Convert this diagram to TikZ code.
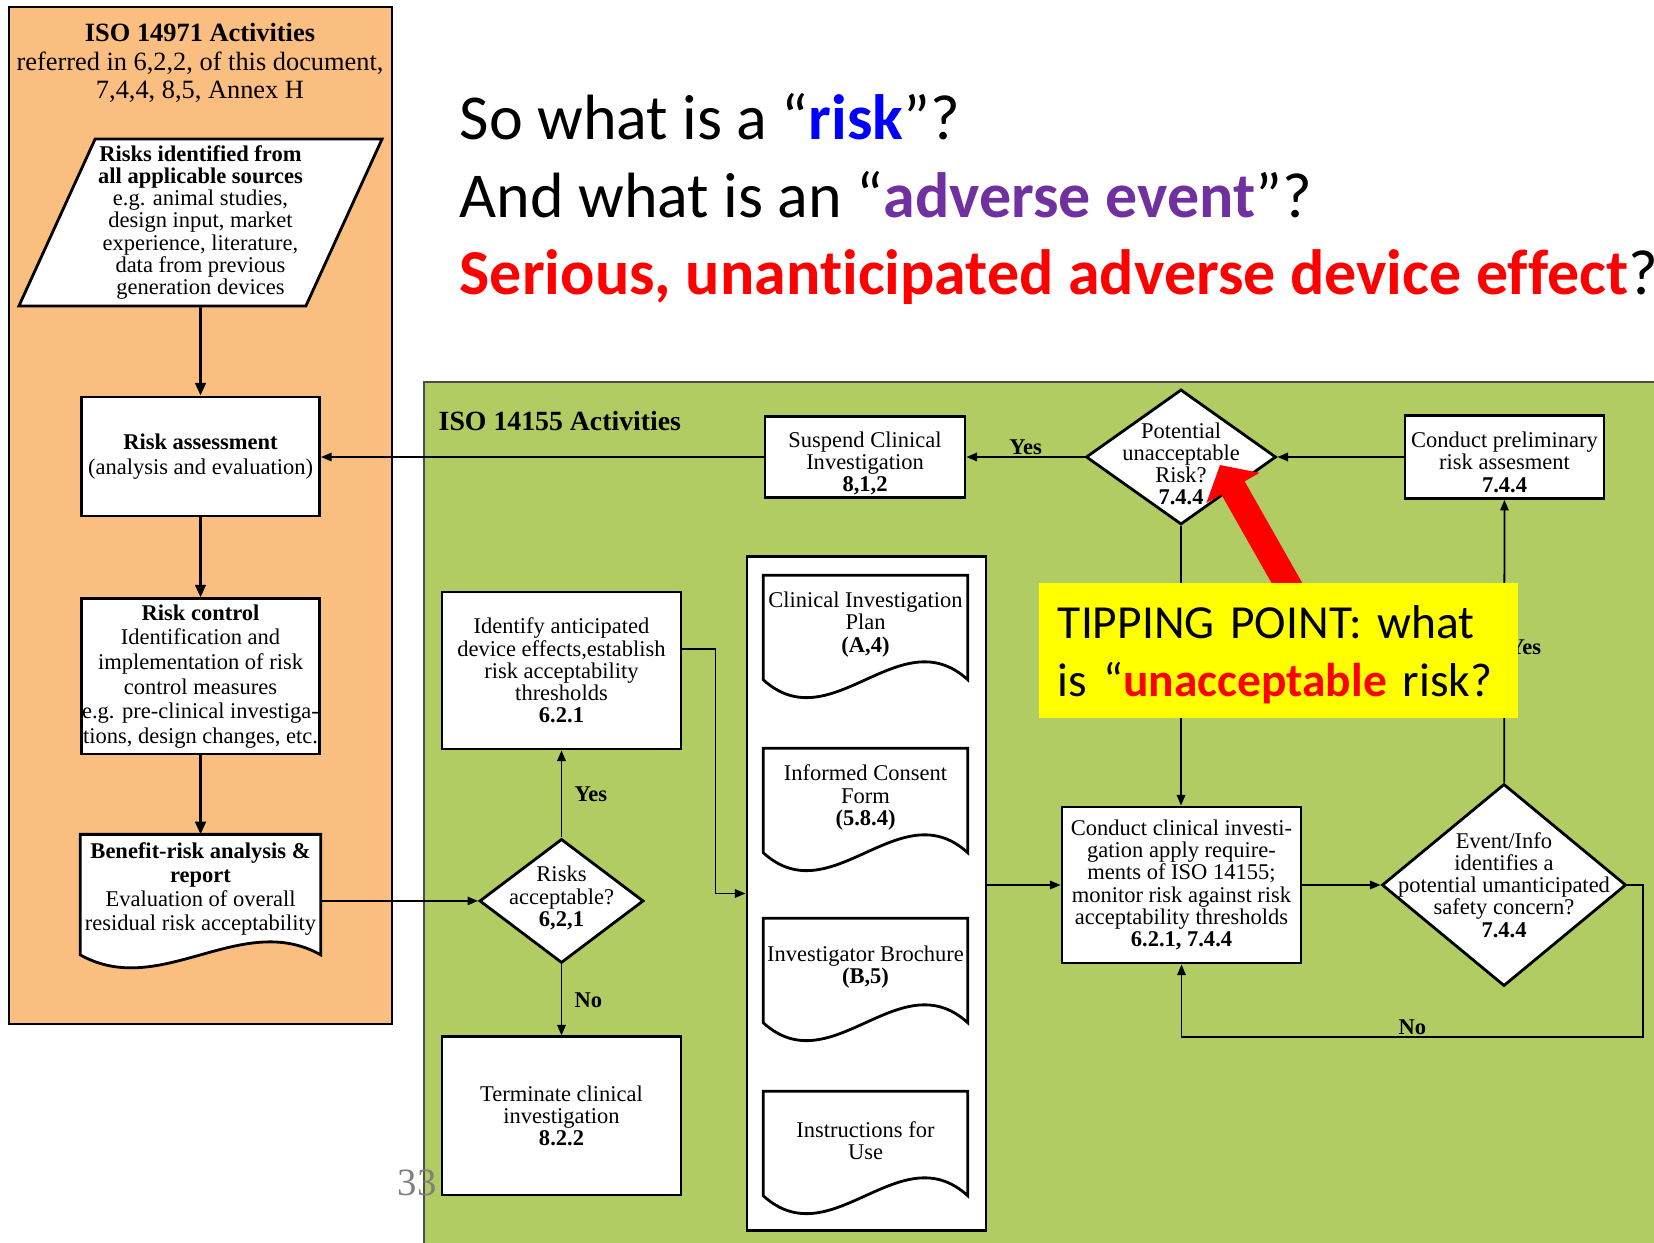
\documentclass[tikz,border=0pt]{standalone}
\usepackage{fontspec}
\setmainfont{Liberation Serif}
\newfontfamily\slidefont[Ligatures=NoCommon]{Carlito}
\usetikzlibrary{shapes.geometric, arrows.meta, positioning, backgrounds}

\definecolor{orangebg}{RGB}{250,191,128}
\definecolor{greenbg}{RGB}{176,204,98}
\definecolor{riskblue}{RGB}{0,0,255}
\definecolor{aepurple}{RGB}{112,48,160}
\definecolor{slidered}{RGB}{255,0,0}
\definecolor{tipyellow}{RGB}{255,255,0}

\newcommand{\boxfont}{\fontsize{6.4}{6.3}\selectfont}
\newcommand{\lowered}[1]{\rule{0pt}{#1}}
% document outline with a wavy bottom: node, control dx, control dy, extra drop
\newcommand{\docshape}[4]{%
  \draw[line width=0.8pt, fill=white] ([yshift=-#4]#1.south west) -- (#1.north west) -- (#1.north east) -- ([yshift=-#4]#1.south east)
    .. controls +(-#2,-#3) and +(#2,#3) .. ([yshift=-#4]#1.south west) -- cycle;}

\tikzset{
  box/.style={draw, line width=0.8pt, fill=white, align=center, inner sep=0pt, font=\boxfont},
  docbox/.style={align=center, inner sep=0pt, font=\boxfont},
  decision/.style={diamond, draw, line width=0.8pt, fill=white, inner sep=0pt},
  dectext/.style={align=center, inner sep=0pt, font=\boxfont},
  conn/.style={line width=0.5pt, -{Triangle[length=3pt,width=2.4pt]}},
  flow/.style={line width=0.8pt, -{Triangle[length=3.6pt,width=3pt]}},
  lbl/.style={font=\boxfont\bfseries, inner sep=0.5pt},
  slideline/.style={anchor=base west, inner sep=0pt, font=\slidefont\fontsize{18.2}{22}\selectfont},
}

\begin{document}
\begin{tikzpicture}[x=0.01cm, y=-0.01cm]
\useasboundingbox (0,0) rectangle (1654,1243);

% the two activity areas
\begin{scope}[on background layer]
  \fill[white] (0,0) rectangle (1654,1243);
  \draw[fill=orangebg, line width=0.6pt] (9,7) rectangle (392,1024);
  \fill[greenbg] (424,382) rectangle (1654,1243);
  \draw[black!70, line width=0.6pt] (1654,382) -- (424,382) -- (424,1243);
\end{scope}

% slide questions
\node[slideline] (q1) at (459,140) {So what is a “\textcolor{riskblue}{\textbf{risk}}”?};
\node[slideline] (q2) at (459,218) {And what is an “\textcolor{aepurple}{\textbf{adverse event}}”?};
\node[slideline] (q3) at (459,295) {\textcolor{slidered}{\textbf{Serious, unanticipated adverse device effect}}?};

% ISO 14971 column
\node[font=\fontsize{7.5}{8.2}\selectfont, align=center, inner sep=0pt] (oname) at (200,63)
  {\textbf{ISO 14971 Activities}\\referred in 6,2,2, of this document,\\7,4,4, 8,5, Annex H};

\node[trapezium,
    trapezium left angle=63.6,
    trapezium right angle=116.4,
    trapezium stretches body,
    draw, line width=0.8pt, fill=white,
    minimum width=3.63cm, minimum height=1.67cm,
    align=center, inner sep=0pt, font=\boxfont] (rsrc) at (200.5,222.5)
  {\textbf{Risks identified from}\\\textbf{all applicable sources}\\e.g. animal studies,\\design input, market\\experience, literature,\\data from previous\\generation devices};

\node[box,
    minimum width=2.38cm, minimum height=1.19cm,
    font=\fontsize{6.4}{7.2}\selectfont,
    below=0.88cm of rsrc] (ra)
  {\textbf{Risk assessment}\\(analysis and evaluation)};

\node[box,
    minimum width=2.38cm, minimum height=1.55cm,
    font=\fontsize{6.4}{7}\selectfont,
    below=0.80cm of ra] (rc)
  {\textbf{Risk control}\\Identification and\\implementation of risk\\control measures\\e.g. pre-clinical investiga-\\tions, design changes, etc.};

\node[docbox,
    minimum width=2.39cm, minimum height=1.05cm,
    font=\fontsize{6.4}{6.9}\selectfont,
    below=0.79cm of rc] (brr)
  {\lowered{5.3pt}\textbf{Benefit-risk analysis \&}\\\textbf{report}\\Evaluation of overall\\residual risk acceptability};

% ISO 14155 area
\node[font=\fontsize{7.9}{8}\selectfont\bfseries, anchor=west, inner sep=0pt] (isob) at (438,421) {ISO 14155 Activities};

\node[box, minimum width=2.0cm, minimum height=0.81cm] (susp) at (865,457)
  {\lowered{8pt}Suspend Clinical\\Investigation\\\textbf{8,1,2}};

\node[decision,
    minimum width=1.9cm, minimum height=1.35cm,
    label={[dectext, yshift=-0.07cm]center:{Potential\\unacceptable\\Risk?\\\textbf{7.4.4}}}] (pot) at (1181,457) {};

\node[box, minimum width=1.99cm, minimum height=0.83cm] (prel) at (1504.5,457)
  {\lowered{7.4pt}Conduct preliminary\\risk assesment\\\textbf{7.4.4}};

\node[box, minimum width=2.39cm, minimum height=1.57cm] (idt) at (561.5,670.5)
  {Identify anticipated\\device effects,establish\\risk acceptability\\thresholds\\\textbf{6.2.1}};

\node[decision,
    minimum width=1.64cm, minimum height=1.24cm,
    below=0.87cm of idt,
    label={[dectext, yshift=0.03cm]center:{Risks\\acceptable?\\\textbf{6,2,1}}}] (racc) {};

\node[box,
    minimum width=2.39cm, minimum height=1.58cm,
    below=0.71cm of racc] (term)
  {Terminate clinical\\investigation\\\textbf{8.2.2}};

\begin{scope}[on background layer]
  \node[draw, line width=0.8pt, fill=white, minimum width=2.39cm, minimum height=6.73cm, inner sep=0pt] (docs) at (866.5,893.5) {};
\end{scope}

\node[docbox, minimum width=2.03cm, minimum height=0.97cm] (cip) at (865.5,624.5)
  {Clinical Investigation\\Plan\\\textbf{(A,4)}};
\node[docbox, minimum width=2.03cm, minimum height=0.97cm] (icf) at (865.5,797.5)
  {Informed Consent\\Form\\\textbf{(5.8.4)}};
\node[docbox, minimum width=2.03cm, minimum height=0.97cm] (ib) at (865.5,967.5)
  {Investigator Brochure\\\textbf{(B,5)}};
\node[docbox, minimum width=2.03cm, minimum height=0.97cm] (ifu) at (865.5,1140.5)
  {Instructions for\\Use};

\node[box, minimum width=2.39cm, minimum height=1.56cm] (ccl) at (1181.5,885)
  {Conduct clinical investi-\\gation apply require-\\ments of ISO 14155;\\monitor risk against risk\\acceptability thresholds\\\textbf{6.2.1, 7.4.4}};

\node[decision,
    minimum width=2.44cm, minimum height=2.02cm,
    label={[dectext]center:{Event/Info\\identifies a\\potential umanticipated\\safety concern?\\\textbf{7.4.4}}}] (evt) at (1504,885) {};

\begin{scope}[on background layer]
  \docshape{brr}{80}{45}{0.14cm}
  \docshape{cip}{68}{62}{0.06cm}
  \docshape{icf}{68}{62}{0.06cm}
  \docshape{ib}{68}{62}{0.06cm}
  \docshape{ifu}{68}{62}{0.06cm}
\end{scope}

% connectors
\draw[flow] (rsrc) -- (ra);
\draw[flow] (ra) -- (rc);
\draw[flow] (rc) -- (brr);
\draw[conn] (brr.east |- racc) -- (racc);
\draw[conn] (racc) -- node[lbl, right=3pt] {Yes} (idt);
\draw[conn] (racc) -- node[lbl, right=3pt] {No} (term);
\draw[conn] ([yshift=0.215cm]idt.east) -- ++(33,0) |- (docs.west);
\draw[conn] (docs.east |- ccl) -- (ccl);
\draw[conn] (ccl) -- (evt);
\draw[conn] (evt) -- node[lbl, right=0.5pt, pos=0.48] {Yes} (prel);
\coordinate (noc) at (1643,1037);
\draw[conn] (evt.east) -| (noc) -| node[lbl, above, pos=0.25] {No} (ccl.south);
\draw[conn] (prel) -- (pot);
\draw[conn] (pot) -- node[lbl, above] {Yes} (susp);
\draw[conn] (susp) -- (susp -| ra.east);
\draw[conn] (pot) -- (pot |- ccl.north);

% tipping point callout
\coordinate (arrtail) at (1292,592);
\coordinate (arrtip) at (1220,465);
\draw[slidered, line width=7.6pt, -{Triangle[length=7.5pt,width=17pt]}] (arrtail) -- (arrtip);

\node[fill=tipyellow,
    minimum width=4.79cm, minimum height=1.35cm,
    text width=4.41cm, inner xsep=0.19cm, inner ysep=0pt,
    align=left, font=\slidefont\fontsize{13.5}{16.5}\selectfont] (tipbox) at (1278.5,650.5)
  {\lowered{12pt}TIPPING POINT: what\\is “\textcolor{slidered}{\textbf{unacceptable}} risk?};

\node[text=gray, font=\fontsize{11}{12}\selectfont, inner sep=0pt] (pgnum) at (417,1183) {33};
\end{tikzpicture}
\end{document}
